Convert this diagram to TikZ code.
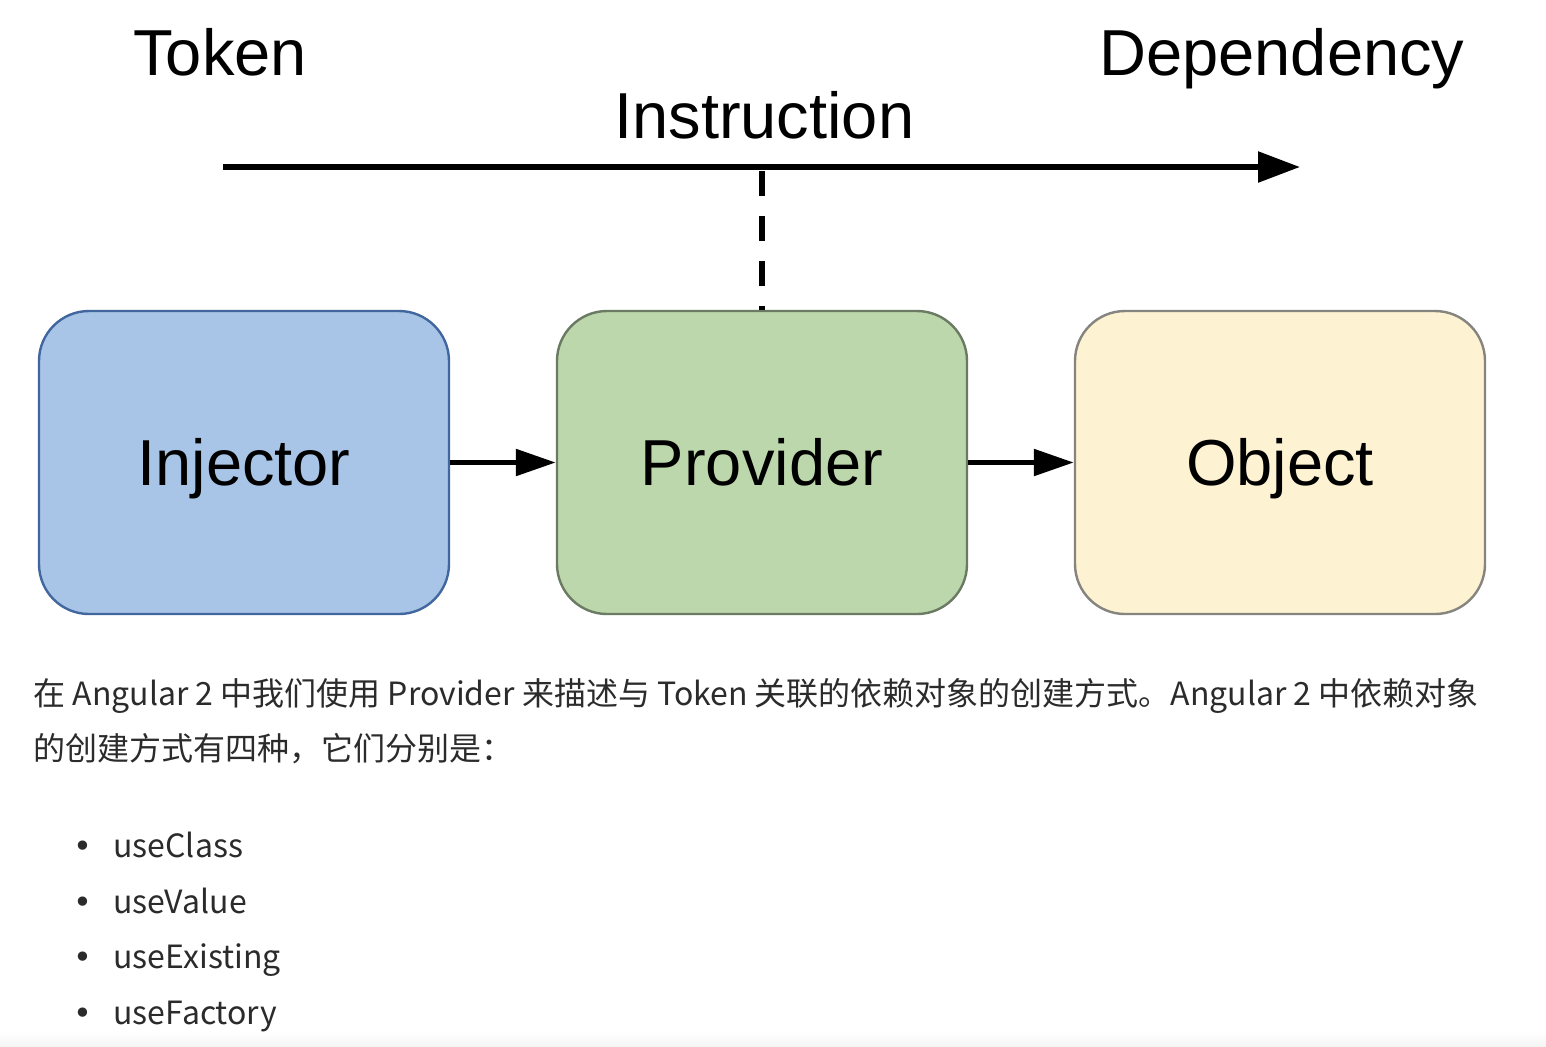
\documentclass[tikz,border=0pt]{standalone}
\usepackage{fontspec}
\setmainfont{Liberation Sans}
\newfontfamily\cjk{Noto Sans CJK SC}
\newfontfamily\dejavu{DejaVu Sans}
\usetikzlibrary{arrows.meta}
\definecolor{injfill}{HTML}{A8C4E7}
\definecolor{injdraw}{HTML}{41679E}
\definecolor{provfill}{HTML}{BDD7AC}
\definecolor{provdraw}{HTML}{6B7A63}
\definecolor{objfill}{HTML}{FDF2D1}
\definecolor{objdraw}{HTML}{85847F}
\definecolor{bodytext}{HTML}{2B2B2B}
\definecolor{bandgray}{HTML}{F4F4F4}
\begin{document}
\begin{tikzpicture}[x=0.5pt,y=-0.5pt,
  box/.style={rounded corners=25pt, minimum width=205pt, minimum height=151.5pt,
    line width=1.2pt, font=\fontsize{32.5}{36}\selectfont, text=black,
    text height=23pt, text depth=0pt},
  label/.style={font=\fontsize{32.5}{36}\selectfont, anchor=base west, inner sep=0pt, text=black},
  arr/.style={line width=2.7pt, -{Triangle[length=20pt,width=13pt]}},
  body/.style={font=\cjk\fontsize{16}{19}\selectfont, anchor=base west, inner sep=0pt, text=bodytext},
  bul/.style={font=\dejavu\fontsize{16}{19}\selectfont, anchor=base, inner sep=0pt, text=bodytext}]
\useasboundingbox[fill=white] (0,0) rectangle (1546,1046);
\shade[top color=white, bottom color=bandgray] (0,1032) rectangle (1546,1046);

\node[label] (token) at (133,75) {Token};
\node[label] (dep) at (1099,75) {Dependency};
\node[label] (instr) at (614,138) {Instruction};

\node[box, fill=injfill, draw=injdraw] (inj) at (244,462.5) {Injector};
\node[box, fill=provfill, draw=provdraw] (prov) at (762,462.5) {Provider};
\node[box, fill=objfill, draw=objdraw] (obj) at (1280,462.5) {Object};

\coordinate (tl) at (223,167);
\coordinate (tr) at (1300,167);
\coordinate (dtop) at (762,171);
\draw[line width=2.8pt, -{Triangle[length=21pt,width=15pt]}] (tl) -- (tr);
\draw[line width=2.8pt, dash pattern=on 12.5pt off 10pt] (dtop) -- (prov.north);

\draw[arr] (inj.east) -- (prov.west);
\draw[arr] (prov.east) -- (obj.west);

\node[body] (p1) at (33,705) {在 Angular 2 中我们使用 Provider 来描述与 Token 关联的依赖对象的创建方式。Angular 2 中依赖对象};
\node[body] (p2) at (33,760) {的创建方式有四种，它们分别是：};

\node[bul] (b1) at (83,857) {•};
\node[body] (i1) at (113,857) {useClass};
\node[bul] (b2) at (83,913) {•};
\node[body] (i2) at (113,913) {useValue};
\node[bul] (b3) at (83,968) {•};
\node[body] (i3) at (113,968) {useExisting};
\node[bul] (b4) at (83,1024) {•};
\node[body] (i4) at (113,1024) {useFactory};
\end{tikzpicture}
\end{document}
